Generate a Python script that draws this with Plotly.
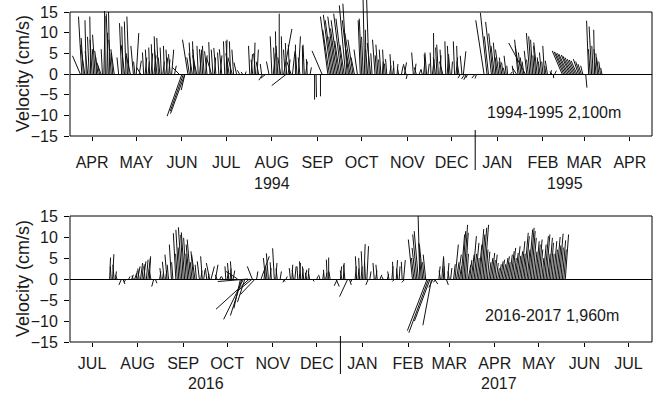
import plotly.graph_objects as go
import pandas as pd

W, H = 663, 393
FONT = "Liberation Sans, Arial, sans-serif"
INK = "#1a1a1a"
K_DAYS = 2.8  # days of time axis per cm/s of east velocity (stick scaling)

# ---------------- Panel 1: 1994-1995, 2,100 m ----------------
p1_start, p1_end = "1994-04-01", "1995-05-01"
p1_months = ["APR", "MAY", "JUN", "JUL", "AUG", "SEP", "OCT", "NOV", "DEC", "JAN", "FEB", "MAR", "APR"]
p1_years = ["1994", "1995"]
p1_label = "1994-1995 2,100m"

p1_day = [
    7, 8, 9, 10, 11, 12, 13, 14, 15, 16, 17, 18, 19, 20, 21, 22, 23, 24, 25, 26, 27, 28, 29, 30,
    33, 35, 36, 37, 38, 39, 40, 41, 43, 44, 45, 47, 48, 50, 51, 52, 53, 54, 55, 56, 57, 58, 59, 60,
    61, 62, 63, 64, 65, 66, 67, 68, 69, 71, 74, 76, 77, 78, 78, 80, 81, 82, 83, 84, 85, 86, 87, 88, 89, 90,
    91, 92, 93, 95, 96, 97, 98, 99, 101, 102, 103, 105, 106, 107, 108, 109, 110, 111, 113, 115, 117, 119,
    122, 123, 124, 125, 126, 127, 128, 130, 131, 133, 135, 137, 138, 139, 140, 141, 142, 143, 144, 145, 146, 147, 147, 148, 149, 150, 151,
    153, 154, 155, 156, 158, 159, 160, 161, 163, 166, 167, 170, 171, 175, 176, 177, 178, 179, 180, 181, 182,
    183, 184, 185, 186, 187, 188, 189, 190, 191, 192, 193, 195, 197, 198, 199, 200, 201, 202, 203, 204, 205, 207, 208, 209, 210, 211, 212, 213,
    214, 215, 217, 218, 219, 220, 222, 223, 225, 227, 228, 229, 233, 234, 235, 237, 239, 240, 241, 242, 243,
    245, 246, 247, 248, 249, 250, 251, 252, 253, 255, 256, 257, 258, 259, 261, 262, 263, 264, 265, 266, 267, 268, 269, 270,
    275, 276, 281, 283, 284, 286, 287, 288, 289, 290, 291, 292, 293, 294, 295, 296, 297, 299, 301, 303, 304, 305,
    306, 307, 308, 309, 310, 311, 312, 313, 314, 315, 316, 317, 318, 319, 320, 321, 322, 323, 324, 326, 327, 328, 329,
    334, 335, 336, 337, 338, 339, 340, 341, 342, 343, 344, 345, 346, 347, 348, 350, 352, 353, 354, 355, 356, 357, 358, 359, 360, 361,
]
p1_u = [
    -1.9, -0.8, -0.5, -1.0, -0.3, -0.6, -0.4, -0.2, -0.5, -0.3, -0.6, -0.2, -0.8, -0.4, -1.0, -0.3, 0.3, -0.2, 0.2, -0.5, -0.3, -0.6, -0.4, -0.8,
    -0.4, -0.5, -0.3, -0.8, -0.4, -0.2, -0.5, -1.0, -0.6, -0.3, 0.6, 0.5, -1.0, -0.3, 0.4, -0.3, 0.3, -0.2, 0.4, -0.3, 0.5, -0.3, -0.6, -0.4,
    -0.4, -0.3, 0.4, -0.2, 0.5, -0.3, 0.3, -0.4, 0.5, 0.4, -1.6, -3.6, -3.2, -0.9, -3.5, -1.3, -0.6, -0.4, -0.8, -0.3, -0.6, -1.0, -0.3, 0.4, -0.4, -0.3,
    -0.4, 0.4, -0.6, -0.3, -1.2, -0.4, 0.3, -0.5, -0.3, 0.4, -0.6, -0.3, 0.2, -0.4, -0.8, -0.3, -1.0, -0.4, -0.6, -0.5, -0.3, 0.2,
    -0.3, 0.3, -0.4, 0.2, -0.5, 0.3, -0.6, -0.3, -1.0, -1.2, -0.6, -0.4, 0.5, -0.3, -0.2, -0.4, 0.0, -0.7, -0.2, 2.0, -0.4, -3.6, -0.3, 0.5, -0.3, -1.0, 0.6,
    0.0, -0.3, 0.5, -0.4, -0.1, -0.3, 0.4, -0.2, 0.3, 0.0, 0.1, 0.0, -2.4, -1.8, -1.6, -1.8, -1.7, -1.2, -1.8, -1.5, -1.7,
    -1.2, -1.8, -1.6, -1.0, -1.5, -1.0, -1.5, -1.0, -1.6, -1.2, -0.8, -0.8, -0.5, -0.6, -0.4, -0.4, -0.2, -0.5, -0.6, -0.8, -0.3, -0.6, -0.3, -0.5, -0.2, -0.4, 0.2, -0.3,
    -0.2, -0.3, 0.3, -0.3, 0.2, -0.2, 0.2, -0.3, 0.4, 0.5, -0.6, -0.3, -0.4, 0.3, -0.5, 0.4, -0.3, 0.3, -0.2, -0.4, 0.3,
    -0.2, 0.4, -0.1, -0.5, -0.3, -0.4, 0.3, -0.3, -0.8, -0.2, 0.3, -0.3, -0.4, 0.2, -0.3, 0.4, -0.2, -0.5, -0.6, -0.4, 0.6, -0.8, -0.6, -0.5,
    -0.8, -0.4, -2.0, -1.6, -1.0, -1.4, -1.0, -0.8, -0.6, -0.5, -0.8, -0.3, -0.6, -0.4, -0.3, -0.5, -0.2, 0.4, -0.3, -1.0, -0.8, -1.0,
    -0.6, -0.5, -0.4, -4.0, -0.6, -0.4, -0.8, -0.6, -0.5, -0.3, -0.5, -0.8, -0.3, -0.4, -0.5, -0.3, -0.4, -0.3, -0.5, 0.3, -0.4, 0.1, 0.4,
    -2.4, -2.3, -2.3, -2.2, -2.2, -2.0, -2.0, -1.8, -1.6, -1.5, -1.4, -1.2, -1.0, -0.8, -0.5, 0.3, -0.5, -0.4, -0.6, -0.3, -0.2, -0.5, -0.4, -0.6, -0.4, -0.3,
]
p1_v = [
    4.4, 13.9, 8.7, 7.0, 13.0, 5.5, 9.0, 13.9, 8.3, 6.0, 9.5, 4.0, 5.6, 2.0, 2.8, 6.0, 14.0, 15.2, 10.0, 14.6, 15.0, 8.3, 5.0, 6.0,
    4.0, 12.3, 11.5, 7.0, 12.7, 5.0, 13.9, 4.4, 6.8, 3.0, 9.9, 3.2, 1.6, 5.2, 4.0, 5.9, 3.0, 6.4, 5.0, 7.2, 4.5, 9.1, 6.0, 8.7,
    4.0, 6.4, 3.0, 6.8, 4.0, 5.9, 3.5, 4.8, 5.9, 2.0, 1.6, -10.2, -9.0, -3.9, -9.6, 8.3, 4.0, 7.6, 5.0, 7.9, 6.0, 4.5, 6.8, 5.0, 6.0, 5.9,
    6.8, 4.5, 5.5, 7.7, 4.0, 5.9, 4.0, 6.3, 5.2, 4.5, 6.0, 7.9, 8.3, 8.0, 5.0, 7.9, 4.0, 5.9, 2.8, 0.9, 0.5, 0.6,
    6.8, 4.8, 3.5, 7.6, 5.0, 5.9, 3.0, 2.4, -1.5, -1.0, 3.0, 9.1, 5.0, 6.4, 10.3, 6.8, 14.6, 4.0, 9.1, 10.9, 5.9, -2.8, 7.5, 3.5, 7.1, 3.0, 5.5,
    7.1, 4.8, 9.1, 4.0, 6.8, 7.1, 3.0, 3.6, 1.6, -6.2, -5.6, -5.4, 5.6, 13.9, 10.7, 14.3, 13.0, 9.0, 13.9, 11.0, 13.0,
    8.0, 14.6, 13.4, 7.0, 16.6, 17.0, 13.0, 6.0, 9.9, 8.3, 4.0, 5.9, 13.0, 13.4, 9.0, 18.5, 10.7, 6.0, 18.0, 7.5, 5.0, 8.3, 4.5, 7.1, 3.5, 5.9, 3.0, 5.9,
    2.5, 3.6, 2.0, 4.8, 1.5, 3.2, 2.4, 1.6, 2.0, 2.8, 2.4, -1.2, 5.2, 2.5, 1.6, 1.0, 1.2, 3.0, 4.8, 5.2, 2.5,
    5.2, 3.5, 9.9, 4.0, 6.4, 7.1, 4.5, 5.9, 3.0, 7.9, 4.0, 6.8, 4.8, 3.0, 7.9, 4.0, 6.8, 3.0, -1.0, 4.4, 5.5, -1.2, -1.4, -1.0,
    -1.0, -1.1, 13.0, 14.8, 9.1, 12.6, 9.8, 6.8, 7.6, 4.0, 5.9, 3.0, 4.0, 2.8, 1.5, 4.4, 2.0, 0.5, 2.0, 1.5, 8.3, 6.8,
    5.2, 4.0, 3.0, 7.5, 5.6, 3.5, 9.9, 9.1, 8.3, 4.5, 6.8, 7.6, 4.0, 3.0, 5.2, 3.0, 6.8, 2.0, 3.2, 0.9, 0.6, -1.0, 0.8,
    5.6, 5.4, 5.2, 5.0, 4.8, 4.6, 4.4, 4.0, 3.6, 3.4, 3.2, 3.6, 3.0, 2.4, 2.0, -3.3, 12.9, 6.0, 11.5, 6.8, 10.7, 6.0, 5.0, 4.0, 3.0, 1.5,
]

# ---------------- Panel 2: 2016-2017, 1,960 m ----------------
p2_start, p2_end = "2016-07-01", "2017-08-01"
p2_months = ["JUL", "AUG", "SEP", "OCT", "NOV", "DEC", "JAN", "FEB", "MAR", "APR", "MAY", "JUN", "JUL"]
p2_years = ["2016", "2017"]
p2_label = "2016-2017 1,960m"

p2_day = [
    27, 28, 29, 30, 31, 32, 35, 36, 38, 40, 42, 43, 44, 45, 46, 47, 48, 49, 50, 51, 52, 53, 54, 55, 57, 58, 61,
    62, 63, 64, 65, 66, 67, 69, 70, 72, 73, 74, 75, 76, 77, 78, 79, 80, 81, 82, 83, 84, 85, 86, 88, 89, 90, 91,
    93, 94, 95, 96, 99, 100, 102, 104, 106, 107, 108, 109, 110, 111, 114, 116, 117, 118, 119, 121, 122,
    124, 124, 126, 127, 130, 132, 133, 134, 135, 136, 137, 139, 140, 141, 143, 145, 146, 147, 150, 151, 152,
    153, 155, 156, 157, 158, 159, 160, 161, 162, 163, 165, 168, 170, 172, 173, 174, 175, 176, 177, 181, 182,
    184, 185, 186, 187, 189, 190, 192, 194, 195, 196, 197, 198, 199, 200, 201, 202, 203, 204, 207, 208, 209, 211, 213,
    216, 217, 219, 220, 221, 222, 223, 224, 226, 227, 228, 233, 234, 235, 236, 237, 238, 239, 240, 241, 242,
    243, 244, 245, 246, 247, 248, 249, 251, 252, 253, 254, 255, 256, 257, 258, 259, 261, 262, 263, 264, 265, 266, 267, 268, 269, 270, 271, 272, 273,
    274, 275, 276, 277, 278, 279, 280, 281, 282, 283, 284, 285, 286, 287, 288, 289, 290, 291, 292, 293, 294, 295, 296, 297, 298, 299, 300, 301, 302, 303,
    304, 305, 306, 307, 308, 309, 310, 311, 312, 313, 314, 315, 316, 317, 318, 319, 320, 321, 322, 323, 324, 325, 326, 327, 328, 329, 330, 331, 332, 333, 334,
    335, 336, 337,
]
p2_u = [
    0.2, -0.2, 0.3, -0.3, 0.2, -0.4, -0.6, 0.5, -0.4, 0.3, 0.4, -0.3, 0.5, 0.3, 0.6, -0.3, 0.5, 0.3, 0.6, -0.2, 0.4, 0.6, 0.3, -0.4, -0.5, 0.4, 0.3,
    -0.3, 0.2, -0.4, 0.3, -0.5, -0.3, -0.5, -0.3, -0.6, -0.4, -0.7, -0.5, -0.8, -0.6, -0.8, -0.6, -0.4, -0.7, -0.8, -0.4, -0.6, -0.8, -0.3, -0.5, 0.3, -0.4, 0.3,
    -0.3, 0.2, -0.8, 0.8, 0.6, -0.4, 0.3, -0.3, -0.2, 0.3, -0.3, 0.2, -0.3, 0.4, -2.8, -1.6, -2.8, -4.8, -1.8, -7.3, -8.1,
    -3.5, -1.2, -3.6, 0.3, 2.0, 0.3, -0.5, -0.3, -0.5, 0.3, -0.3, -0.4, 0.3, -0.3, 0.3, 0.5, -0.4, 0.3, -0.3, 0.2, -0.3,
    0.3, -0.2, 0.3, -0.3, 0.2, -0.3, 0.4, -0.3, 0.2, -0.3, 0.4, 0.2, -0.3, 0.2, -0.2, 0.3, -0.2, 0.0, -0.3, 0.8, -0.8,
    0.3, -0.4, 0.2, -0.3, -2.0, 0.5, -0.4, 0.3, -0.3, 0.2, -0.2, 0.3, -0.3, 0.3, -0.2, 0.4, -0.6, 0.3, -0.3, 0.3, -0.3, 0.4, -0.3,
    0.3, -0.3, 0.3, -0.2, -0.6, 0.3, -0.3, 0.2, -0.2, 0.4, -0.8, -1.0, -0.6, -0.8, -1.0, -1.0, -0.4, -0.6, -0.8, -0.4, -0.6,
    -4.8, -4.8, -3.8, -2.1, -1.0, 0.8, -0.6, 0.3, -0.3, 0.4, 0.2, -0.3, 0.5, 0.3, -0.3, 0.3, 0.4, 0.8, 0.6, 0.8, 0.5, 0.9, 0.8, 0.9, 0.7, 0.4, 0.6, 0.5, 0.7,
    0.9, 0.6, 0.8, 0.5, 0.8, 0.9, 0.8, 0.9, 1.0, 0.5, 0.6, 0.5, 0.6, 0.7, 0.5, 0.6, 0.5, 0.4, 0.5, 0.6, 0.6, 0.5, 0.7, 0.7, 0.5, 0.7, 0.8, 0.8, 0.6, 0.7,
    0.8, 0.6, 0.7, 0.9, 0.6, 1.0, 0.9, 0.7, 1.0, 1.0, 0.9, 0.8, 0.6, 0.8, 0.7, 0.8, 0.6, 0.5, 0.7, 0.9, 0.9, 0.6, 0.8, 0.7, 0.5, 0.8, 0.6, 0.9, 0.7, 0.9, 0.6,
    0.8, 0.6, 0.8,
]
p2_v = [
    5.1, 3.0, 5.9, 3.4, 1.8, 1.0, -1.4, -1.2, -0.8, 0.6, 1.0, 0.8, 1.4, 2.0, 3.0, 2.5, 3.8, 3.0, 4.2, 3.5, 4.6, 5.0, 5.4, 2.2, -1.8, -1.0, 1.8,
    2.6, 1.5, 4.1, 2.0, 5.8, 3.4, 8.2, 4.0, 10.9, 6.0, 11.7, 7.5, 12.3, 10.5, 11.1, 9.8, 6.0, 8.2, 9.4, 4.0, 6.6, 5.8, 3.4, 4.2, 2.0, 5.4, 2.2,
    2.6, 1.2, 3.8, 3.0, 3.4, 1.0, 0.6, 0.6, 3.0, 2.0, 3.8, 2.5, 4.2, 2.0, 1.8, -7.0, -8.7, -9.6, -5.5, -0.6, -7.2,
    -2.8, 3.0, -3.7, 1.8, 5.4, 2.6, 5.0, 3.0, 6.1, 2.6, 4.0, 7.3, 3.8, 2.5, 1.8, -0.6, -0.8, 0.6, 2.6, 3.4, 2.2,
    3.0, 3.0, 3.8, 4.2, 2.5, 3.0, 2.2, 1.5, 2.6, 1.8, -0.6, 0.6, 1.0, 1.5, 2.2, 1.5, 4.6, 5.1, 1.8, -1.8, -1.6,
    3.0, 2.0, 3.8, 3.4, -4.2, -1.4, -0.8, 3.0, 5.4, 2.5, 5.0, 3.0, 6.6, 8.3, 4.0, 7.8, -1.4, 1.8, 3.8, 2.0, 3.4, 1.0, 0.6,
    1.2, 1.8, 3.0, 4.1, -0.6, 4.5, 2.5, 3.0, 4.1, 4.5, -0.8, 9.4, 5.0, 7.4, 10.6, 11.4, 15.0, 8.6, 8.2, 4.0, 5.8,
    -12.3, -12.8, -10.0, -11.0, -2.0, -1.2, -0.8, 3.0, 2.0, 5.0, 3.0, 5.4, -1.4, 3.8, 1.8, 2.6, 3.5, 8.2, 4.0, 5.8, 3.0, 10.6, 11.4, 12.9, 11.0, 6.0, 3.4, 4.5, 5.8,
    10.2, 6.0, 8.6, 5.0, 8.2, 11.9, 10.6, 12.2, 12.9, 7.0, 6.5, 4.0, 5.0, 6.2, 4.5, 5.8, 3.8, 2.6, 3.5, 4.2, 4.6, 3.5, 5.0, 5.4, 4.0, 5.8, 6.6, 7.4, 5.0, 6.2,
    7.8, 5.5, 6.6, 9.0, 6.0, 11.0, 10.2, 7.0, 11.8, 12.2, 11.4, 9.8, 6.5, 9.0, 8.2, 9.4, 7.0, 5.0, 8.2, 10.2, 10.6, 6.0, 9.8, 8.6, 6.0, 9.0, 7.0, 10.0, 8.0, 10.8, 7.5,
    9.2, 7.0, 10.6,
]

assert len(p1_day) == len(p1_u) == len(p1_v), (len(p1_day), len(p1_u), len(p1_v))
assert len(p2_day) == len(p2_u) == len(p2_v), (len(p2_day), len(p2_u), len(p2_v))

y_major = [-15, -10, -5, 0, 5, 10, 15]
y_minor = [k for k in range(-15, 16) if k % 5]
y_all = list(range(-15, 16))


def fx(p):
    return p / W


def fy(p):
    return 1 - p / H


def sticks(start, days, us, vs):
    t0 = pd.Timestamp(start)
    xs, ys = [], []
    for d, u, v in zip(days, us, vs):
        base = t0 + pd.Timedelta(days=d)
        tip = base + pd.Timedelta(days=u * K_DAYS)
        xs += [base.strftime("%Y-%m-%d %H:%M"), tip.strftime("%Y-%m-%d %H:%M"), None]
        ys += [0, v, None]
    return xs, ys


def month_ticks(start, end):
    starts = pd.date_range(start, end, freq="MS")
    majors = [d.strftime("%Y-%m-%d") for d in starts]
    mids = [(d + pd.Timedelta(days=15)).strftime("%Y-%m-%d") for d in starts[:-1]]
    minors = []
    for d in starts[:-1]:
        for k in (5, 10, 20, 25):
            minors.append((d + pd.Timedelta(days=k)).strftime("%Y-%m-%d"))
    return majors, mids, minors


fig = go.Figure()
layout = dict(
    width=W, height=H, margin=dict(l=0, r=0, t=0, b=0, autoexpand=False),
    paper_bgcolor="white", plot_bgcolor="rgba(0,0,0,0)",
    showlegend=False, font=dict(family=FONT, size=16, color=INK),
)
annotations, shapes = [], []

panels = [
    dict(start=p1_start, end=p1_end, months=p1_months, years=p1_years, label=p1_label,
         day=p1_day, u=p1_u, v=p1_v, top=12, bottom=136, clip_top=0, standoff=8,
         year_x=(272, 565), year_y=183, label_xy=(554, 112), jan="1995-01-01", jan_y=(130, 170)),
    dict(start=p2_start, end=p2_end, months=p2_months, years=p2_years, label=p2_label,
         day=p2_day, u=p2_u, v=p2_v, top=216, bottom=342, clip_top=195, standoff=3,
         year_x=(206, 499), year_y=383, label_xy=(552, 315), jan="2017-01-01", jan_y=(336, 374)),
]

XL, XR = 70, 652
xdom = [fx(XL), fx(XR)]
axis_no = 0


def new_axis():
    global axis_no
    axis_no += 1
    return axis_no


def xname(k):
    return "x" if k == 1 else f"x{k}"


def yname(k):
    return "y" if k == 1 else f"y{k}"


def xkey(k):
    return "xaxis" if k == 1 else f"xaxis{k}"


def ykey(k):
    return "yaxis" if k == 1 else f"yaxis{k}"


for p in panels:
    kx = [new_axis() for _ in range(5)]
    ky = [kx[0], kx[1], kx[2]]
    xa = xname(kx[0])
    ya = yname(ky[0])
    ppu = (p["bottom"] - p["top"]) / 30.0
    ytop = 15 + (p["top"] - p["clip_top"]) / ppu
    ydom = [fy(p["bottom"]), fy(p["clip_top"])]
    majors, mids, minors = month_ticks(p["start"], p["end"])
    xr = [p["start"], p["end"]]
    xbase = dict(type="date", range=xr, showgrid=False, zeroline=False, showline=False,
                 tickmode="array", tickwidth=1, tickcolor="black", automargin=False)

    layout[xkey(kx[0])] = dict(xbase, domain=xdom, anchor=ya, tickvals=mids, ticktext=p["months"],
                               ticks="outside", ticklen=4, ticklabelstandoff=p["standoff"],
                               tickfont=dict(family=FONT, size=16, color=INK))
    layout[xkey(kx[1])] = dict(xbase, overlaying=xa, anchor=ya, tickvals=minors,
                               ticks="outside", ticklen=4, showticklabels=False)
    layout[xkey(kx[2])] = dict(xbase, overlaying=xa, anchor=ya, tickvals=majors,
                               ticks="outside", ticklen=10, showticklabels=False)
    layout[xkey(kx[3])] = dict(xbase, overlaying=xa, anchor=ya, tickvals=minors + mids,
                               ticks="inside", ticklen=3, showticklabels=False)
    layout[xkey(kx[4])] = dict(xbase, overlaying=xa, anchor=ya, tickvals=majors,
                               ticks="inside", ticklen=6, showticklabels=False)

    ybase = dict(range=[-15, ytop], showgrid=False, showline=False, tickmode="array",
                 tickwidth=1, tickcolor="black", automargin=False)
    layout[ykey(ky[0])] = dict(ybase, domain=ydom, anchor=xa, tickvals=y_major,
                               ticks="outside", ticklen=5, ticklabelstandoff=3,
                               tickfont=dict(family=FONT, size=16, color=INK),
                               zeroline=True, zerolinecolor="black", zerolinewidth=1.3)
    layout[ykey(ky[1])] = dict(ybase, overlaying=ya, anchor=xa, tickvals=y_minor,
                               ticks="outside", ticklen=3, showticklabels=False, zeroline=False)
    layout[ykey(ky[2])] = dict(ybase, overlaying=ya, anchor=xa, tickvals=y_all,
                               ticks="inside", ticklen=4, showticklabels=False, zeroline=False,
                               mirror="ticks")

    shapes.append(dict(type="rect", xref="paper", yref="paper",
                       x0=fx(XL), x1=fx(XR), y0=fy(p["bottom"]), y1=fy(p["top"]),
                       line=dict(color="black", width=1), fillcolor="rgba(0,0,0,0)"))

    xs, ys = sticks(p["start"], p["day"], p["u"], p["v"])
    fig.add_trace(go.Scatter(x=xs, y=ys, mode="lines", xaxis=xa, yaxis=ya,
                             line=dict(color="#111111", width=1.0), hoverinfo="skip"))

    shapes.append(dict(type="line", xref=xa, yref="paper", x0=p["jan"], x1=p["jan"],
                       y0=fy(p["jan_y"][0]), y1=fy(p["jan_y"][1]),
                       line=dict(color="black", width=1)))
    for yr, xpx in zip(p["years"], p["year_x"]):
        annotations.append(dict(text=yr, xref="paper", yref="paper", x=fx(xpx), y=fy(p["year_y"]),
                                xanchor="center", yanchor="middle", showarrow=False,
                                font=dict(family=FONT, size=16, color=INK)))
    annotations.append(dict(text=p["label"], xref="paper", yref="paper",
                            x=fx(p["label_xy"][0]), y=fy(p["label_xy"][1]),
                            xanchor="center", yanchor="middle", showarrow=False,
                            font=dict(family=FONT, size=16, color=INK)))
    annotations.append(dict(text="Velocity (cm/s)", xref="paper", yref="paper",
                            x=fx(23), y=fy((p["top"] + p["bottom"]) / 2), textangle=-90,
                            xanchor="center", yanchor="middle", showarrow=False,
                            font=dict(family=FONT, size=18, color=INK)))

layout["annotations"] = annotations
layout["shapes"] = shapes
fig.update_layout(**layout)
# remove the default 8px page margin so the 663x393 figure fills the window exactly
fig.write_html("out.html", config={"displayModeBar": False},
               post_script="document.body.style.margin='0px';")
